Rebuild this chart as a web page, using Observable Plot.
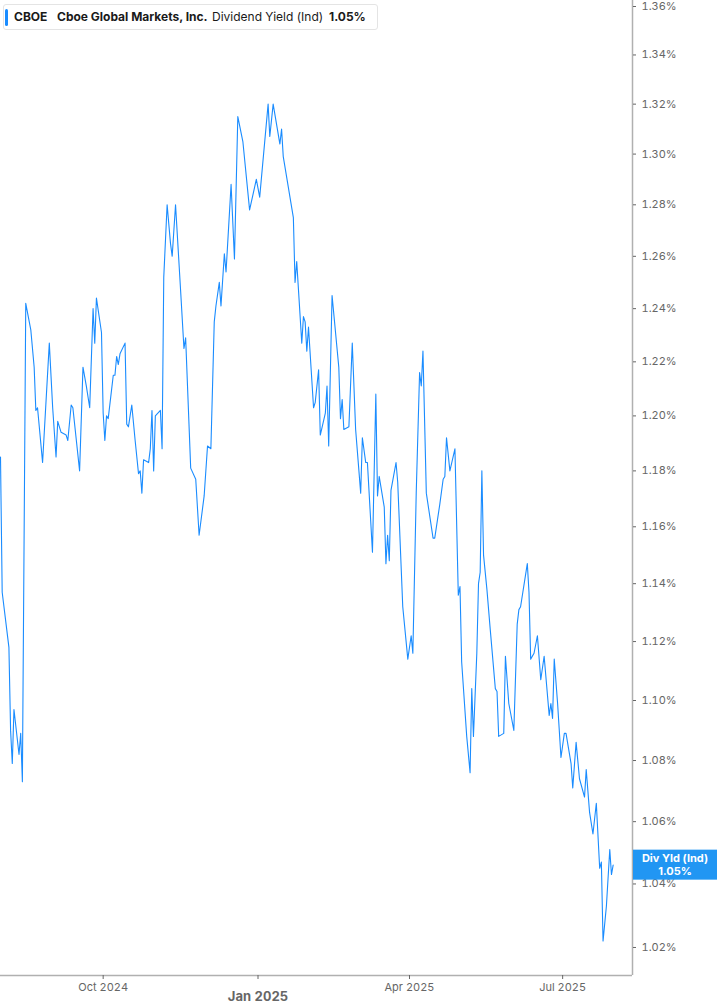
<!DOCTYPE html>
<html><head><meta charset="utf-8">
<script src="https://cdn.jsdelivr.net/npm/d3@7"></script>
<script src="https://cdn.jsdelivr.net/npm/@observablehq/plot@0.6"></script>
<style>
body{margin:0;background:#fff;font-family:Inter,"Noto Sans",sans-serif;}
#wrap{position:relative;width:717px;height:1005px;overflow:hidden;}
#hdr{position:absolute;left:3px;top:4px;width:375px;height:26px;border:1px solid #e4e4e4;border-radius:3px;background:#fff;font-family:Inter,sans-serif;font-size:12px;color:#1a1a1a;box-sizing:border-box;white-space:nowrap;}
#hdr .bar{position:absolute;left:1px;top:4px;width:3px;height:17px;background:#1a8cff;border-radius:2px;}
#hdr span{position:absolute;top:5px;line-height:14px;}
</style>
</head><body>
<div id="wrap">
<div id="chart"></div>
<div id="hdr"><div class="bar"></div>
<span style="left:10px;font-weight:700">CBOE</span>
<span style="left:53px;font-weight:700">Cboe Global Markets, Inc.</span>
<span style="left:208px;font-weight:400">Dividend Yield (Ind)</span>
<span style="left:325px;font-weight:700">1.05%</span>
</div>
</div>
<script>
const dates = [
"2024-08-01","2024-08-02","2024-08-06","2024-08-07","2024-08-08","2024-08-09","2024-08-12","2024-08-13","2024-08-14","2024-08-16",
"2024-08-19","2024-08-21","2024-08-22","2024-08-23","2024-08-26","2024-08-30","2024-09-01","2024-09-03","2024-09-04","2024-09-06",
"2024-09-09","2024-09-10","2024-09-12","2024-09-13","2024-09-17","2024-09-19","2024-09-21","2024-09-23","2024-09-25","2024-09-26",
"2024-09-27","2024-09-30","2024-10-01","2024-10-02","2024-10-03","2024-10-04","2024-10-07","2024-10-08","2024-10-09","2024-10-10",
"2024-10-11","2024-10-14","2024-10-15","2024-10-16","2024-10-18","2024-10-20","2024-10-22","2024-10-23","2024-10-24","2024-10-25",
"2024-10-28","2024-10-29","2024-10-30","2024-10-31","2024-11-01","2024-11-04","2024-11-05","2024-11-06","2024-11-08","2024-11-10",
"2024-11-11","2024-11-13","2024-11-16","2024-11-18","2024-11-19","2024-11-22","2024-11-25","2024-11-27","2024-11-30","2024-12-02",
"2024-12-04","2024-12-06","2024-12-07","2024-12-09","2024-12-10","2024-12-12","2024-12-13","2024-12-16","2024-12-18","2024-12-20",
"2024-12-23","2024-12-27","2024-12-31","2025-01-02","2025-01-07","2025-01-08","2025-01-10","2025-01-14","2025-01-15","2025-01-16",
"2025-01-22","2025-01-23","2025-01-24","2025-01-27","2025-01-28","2025-01-29","2025-01-30","2025-01-31","2025-02-03","2025-02-04",
"2025-02-06","2025-02-07","2025-02-10","2025-02-11","2025-02-12","2025-02-14","2025-02-18","2025-02-19","2025-02-20","2025-02-21",
"2025-02-24","2025-02-26","2025-02-28","2025-03-03","2025-03-04","2025-03-06","2025-03-07","2025-03-10","2025-03-12","2025-03-13",
"2025-03-14","2025-03-17","2025-03-18","2025-03-19","2025-03-20","2025-03-21","2025-03-24","2025-03-25","2025-03-28","2025-03-31",
"2025-04-02","2025-04-03","2025-04-05","2025-04-07","2025-04-08","2025-04-09","2025-04-11","2025-04-15","2025-04-16","2025-04-19",
"2025-04-21","2025-04-22","2025-04-23","2025-04-25","2025-04-28","2025-04-30","2025-05-01","2025-05-02","2025-05-05","2025-05-07",
"2025-05-08","2025-05-09","2025-05-11","2025-05-12","2025-05-13","2025-05-14","2025-05-15","2025-05-17","2025-05-19","2025-05-22",
"2025-05-23","2025-05-24","2025-05-27","2025-05-28","2025-05-30","2025-06-02","2025-06-04","2025-06-05","2025-06-06","2025-06-10",
"2025-06-11","2025-06-12","2025-06-14","2025-06-16","2025-06-18","2025-06-20","2025-06-23","2025-06-24","2025-06-25","2025-06-26",
"2025-06-28","2025-06-30","2025-07-02","2025-07-03","2025-07-06","2025-07-07","2025-07-09","2025-07-11","2025-07-14","2025-07-15",
"2025-07-17","2025-07-19","2025-07-21","2025-07-23","2025-07-24","2025-07-25","2025-07-27","2025-07-29","2025-07-30","2025-07-31"
];
const yields = [
1.185,1.137,1.118,1.090,1.079,1.097,1.082,1.089,1.073,1.242,
1.232,1.218,1.202,1.203,1.183,1.227,1.203,1.185,1.198,1.194,
1.193,1.191,1.204,1.203,1.180,1.218,1.211,1.203,1.240,1.227,
1.244,1.231,1.201,1.191,1.200,1.199,1.215,1.215,1.222,1.219,
1.223,1.227,1.197,1.196,1.204,1.191,1.179,1.180,1.172,1.184,
1.183,1.188,1.202,1.180,1.200,1.202,1.188,1.252,1.280,1.265,
1.260,1.280,1.247,1.225,1.229,1.181,1.177,1.157,1.171,1.189,
1.188,1.235,1.241,1.250,1.241,1.261,1.254,1.288,1.259,1.315,
1.305,1.278,1.290,1.283,1.320,1.307,1.320,1.304,1.310,1.299,
1.275,1.250,1.258,1.227,1.237,1.235,1.224,1.233,1.203,1.205,
1.217,1.193,1.201,1.211,1.189,1.245,1.218,1.199,1.206,1.195,
1.196,1.227,1.195,1.172,1.192,1.183,1.183,1.151,1.208,1.171,
1.178,1.167,1.147,1.157,1.148,1.173,1.183,1.176,1.132,1.114,
1.122,1.116,1.172,1.216,1.211,1.224,1.172,1.156,1.156,1.168,
1.177,1.178,1.192,1.180,1.188,1.136,1.139,1.113,1.088,1.076,
1.104,1.088,1.116,1.140,1.144,1.180,1.150,1.138,1.124,1.104,
1.103,1.088,1.089,1.115,1.099,1.090,1.126,1.131,1.132,1.147,
1.137,1.114,1.116,1.122,1.107,1.115,1.095,1.099,1.094,1.114,
1.099,1.081,1.089,1.089,1.079,1.071,1.086,1.074,1.068,1.077,
1.063,1.056,1.066,1.045,1.047,1.022,1.033,1.051,1.043,1.046
];
const yTicks = [1.02,1.04,1.06,1.08,1.10,1.12,1.14,1.16,1.18,1.20,1.22,1.24,1.26,1.28,1.30,1.32,1.34,1.36];
const xTicks = ["2024-10-01","2025-01-01","2025-04-01","2025-07-01"];
const xDomain = ["2024-08-01","2025-08-11T12:00:00Z"];
const yDomain = [1.0113, 1.3625];
const seriesLabel = "Div Yld (Ind)";
const currentLabel = "1.05%";

const data = dates.map((d, i) => ({date: new Date(d + "T00:00:00Z"), value: yields[i]}));
const xd = xDomain.map(d => new Date(d.length === 10 ? d + "T00:00:00Z" : d));

const plot = Plot.plot({
  width: 717,
  height: 1005,
  marginLeft: 0,
  marginRight: 85,
  marginTop: 0,
  marginBottom: 30,
  style: {fontFamily: "Inter, sans-serif", fontSize: "11px", color: "#666", background: "#fff"},
  x: {type: "utc", domain: xd},
  y: {type: "log", domain: yDomain},
  marks: [
    Plot.ruleY([yDomain[0]], {stroke: "#b0b0b0", strokeWidth: 1.5}),
    Plot.ruleX([xd[1]], {stroke: "#b0b0b0", strokeWidth: 1.5}),
    Plot.axisY(yTicks, {anchor: "right", tickSize: 3, tickPadding: 6, tickFormat: d => d.toFixed(2) + "%", label: null}),
    Plot.axisX(xTicks.map(d => new Date(d + "T00:00:00Z")), {tickSize: 4, tickPadding: 4, tickFormat: d3.utcFormat("%b %Y"), label: null}),
    Plot.lineY(data, {x: "date", y: "value", stroke: "#1a8cff", strokeWidth: 1.1})
  ]
});
document.getElementById("chart").appendChild(plot);

const svg = d3.select(plot);
svg.selectAll('g[aria-label="x-axis tick label"] text')
  .filter(function() { return this.textContent.startsWith("Jan"); })
  .attr("font-weight", "bold").attr("font-size", 13).attr("dy", "0.6em");

const ys = plot.scale("y");
const last = yields[yields.length - 1];
const yy = ys.apply(last);
const g = svg.append("g");
g.append("rect").attr("x", 633).attr("y", yy - 15).attr("width", 84).attr("height", 30).attr("fill", "#2196f3");
g.append("text").attr("x", 675).attr("y", yy - 3).attr("text-anchor", "middle").attr("fill", "#fff")
  .attr("font-weight", "bold").attr("font-size", 11).text(seriesLabel);
g.append("text").attr("x", 675).attr("y", yy + 10).attr("text-anchor", "middle").attr("fill", "#fff")
  .attr("font-weight", "bold").attr("font-size", 11).text(currentLabel);
</script>
</body></html>
